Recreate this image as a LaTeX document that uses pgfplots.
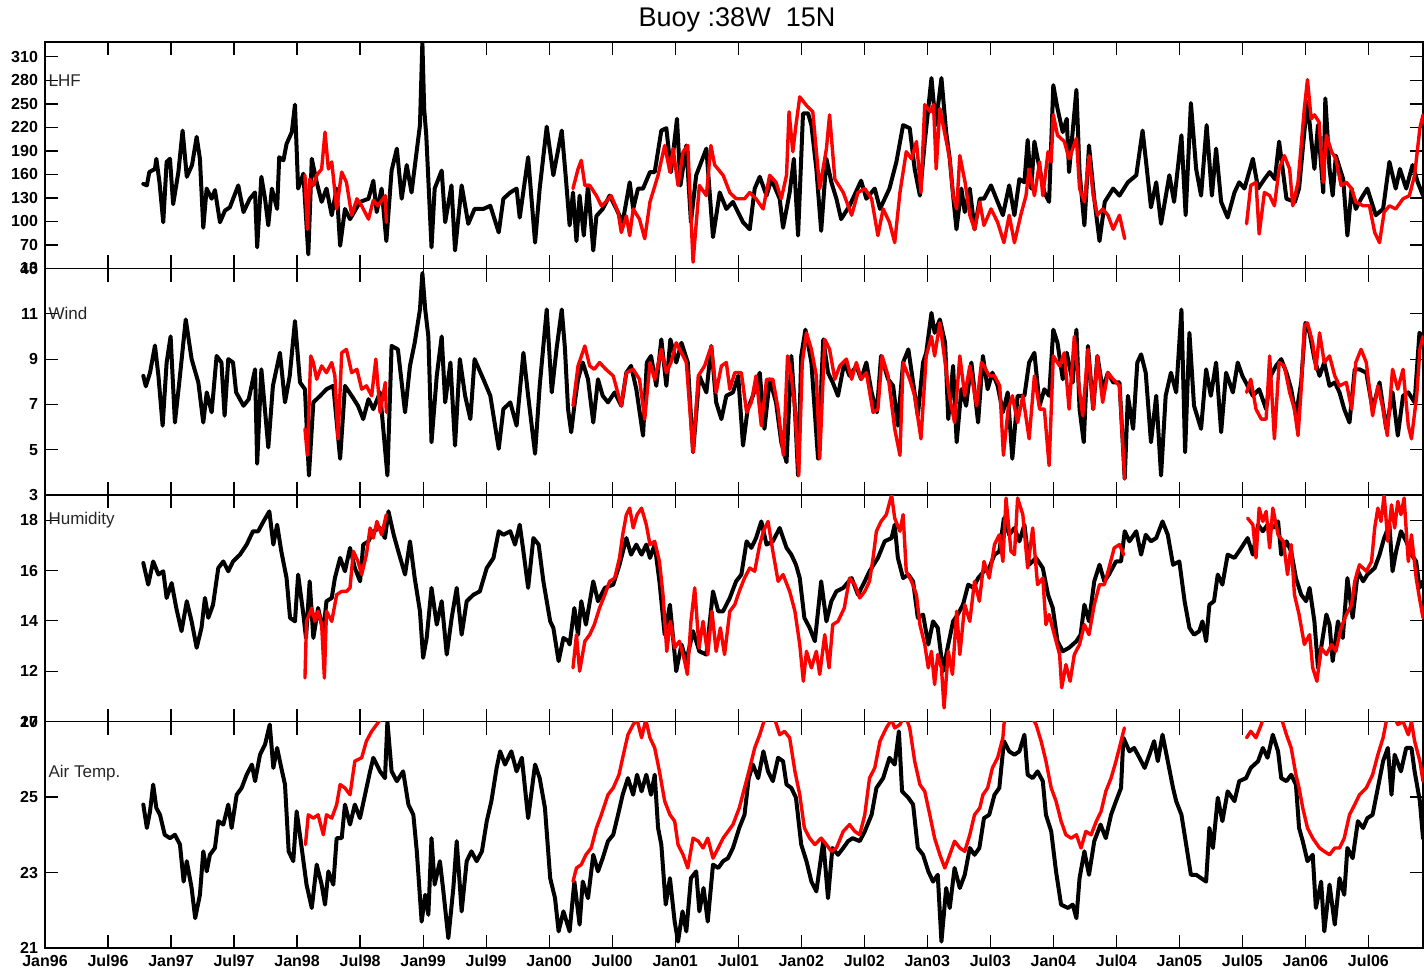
\documentclass[border=0pt]{standalone}
\usepackage{pgfplots}
\pgfplotsset{compat=1.18}
\usepackage{fontspec}
\setmainfont{Liberation Sans}
\tikzset{plab/.style={anchor=west, inner sep=0pt, font=\fontsize{8.5}{9}\selectfont, black!85}}
\pgfplotsset{
 panel/.style={
  scale only axis, width=689pt, height=113.25pt,
  xmin=0, xmax=131.2,
  xtick={0,6,...,126}, xticklabels={},
  tick align=inside, major tick length=6.5pt,
  xtick pos=both, ytick pos=both, yticklabel pos=left,
  axis line style={line width=0.7pt},
  tick style={line width=0.6pt, black},
  /pgf/number format/assume math mode=true,
  ticklabel style={font=\fontsize{8}{9}\selectfont\bfseries},
  every axis plot/.append style={line join=round, line cap=round},
 },
 blk/.style={black, line width=2pt},
 rd/.style={red, line width=1.7pt},
}
\begin{document}
\begin{tikzpicture}
% ---------------- LHF ----------------
\begin{axis}[panel, at={(0pt,339.75pt)}, ymin=40, ymax=329, ytick={40,70,...,310}]
\addplot[blk] coordinates {(9.36,148)(9.7,146)(9.93,163)(10.47,167)(10.6,180)(10.9,150)(11.26,99)(11.58,176)(11.9,180)(12.2,122)(12.7,163)(13.1,216)(13.5,157)(14.0,172)(14.44,208)(14.75,180)(15.07,92)(15.39,142)(15.87,129)(16.18,140)(16.66,99)(17.14,114)(17.6,118)(18.4,146)(18.9,112)(19.5,129)(20.0,137)(20.2,67)(20.6,157)(20.95,129)(21.26,95)(21.6,142)(22.1,116)(22.3,182)(22.7,178)(23.0,199)(23.5,214)(23.8,249)(24.1,142)(24.6,161)(25.07,58)(25.4,180)(25.87,150)(26.34,125)(26.8,142)(27.3,108)(27.77,142)(28.1,69)(28.56,116)(29.04,103)(30.0,125)(30.8,129)(31.26,152)(31.58,112)(32.05,142)(32.5,75)(33.0,165)(33.5,193)(33.96,129)(34.44,172)(34.9,137)(35.4,191)(35.7,223)(35.93,329)(36.1,244)(36.3,210)(36.8,67)(37.1,142)(37.77,165)(38.1,99)(38.7,146)(39.04,63)(39.67,146)(40.3,97)(40.9,116)(41.74,116)(42.4,120)(43.2,86)(43.64,129)(44.3,137)(44.9,142)(45.2,105)(46.0,182)(46.66,73)(47.1,142)(47.77,221)(48.4,159)(49.2,216)(49.6,154)(49.95,95)(50.27,137)(50.6,75)(50.9,133)(51.3,82)(51.7,146)(52.2,63)(52.5,107)(53.1,116)(53.76,133)(54.4,116)(55.0,99)(55.67,150)(56.0,116)(56.46,142)(56.94,142)(57.6,163)(58.05,163)(58.68,216)(59.16,219)(59.6,163)(60.17,231)(60.5,146)(61.06,197)(61.5,99)(62.0,159)(62.97,193)(63.6,80)(64.24,137)(64.87,116)(65.5,125)(66.46,99)(67.1,90)(67.57,142)(68.05,157)(68.7,133)(69.16,154)(69.95,129)(70.27,92)(70.9,137)(71.3,180)(71.7,82)(72.17,238)(72.65,238)(72.97,223)(73.44,167)(73.9,88)(74.4,180)(74.87,150)(75.35,129)(75.8,103)(76.6,120)(77.7,152)(78.2,129)(79.0,142)(79.5,116)(80.4,142)(81.06,176)(81.7,223)(82.33,219)(82.8,167)(83.3,133)(83.76,201)(84.4,283)(84.8,223)(85.35,283)(85.8,214)(86.14,180)(86.46,133)(86.78,90)(87.25,142)(87.57,112)(88.05,142)(88.5,90)(89.0,129)(89.4,129)(90.07,146)(90.7,125)(91.2,108)(91.8,146)(92.3,108)(92.77,154)(93.25,150)(93.56,204)(93.9,142)(94.2,202)(94.7,167)(95.15,137)(95.6,125)(96.0,274)(96.4,244)(96.9,214)(97.28,231)(97.5,163)(98.2,268)(98.5,163)(98.96,95)(99.4,197)(99.9,129)(100.4,75)(100.9,125)(101.7,142)(102.3,133)(103.1,150)(103.9,159)(104.5,216)(104.8,180)(105.3,118)(105.8,150)(106.26,97)(107.05,159)(107.5,125)(108.2,210)(108.6,108)(109.1,251)(109.6,167)(110.07,133)(110.6,223)(111.1,133)(111.5,193)(111.98,125)(112.6,105)(113.25,137)(113.7,150)(114.2,142)(115.0,180)(115.5,142)(116.1,154)(116.6,163)(117.1,154)(117.5,202)(118.2,129)(119.0,125)(119.4,142)(119.9,214)(120.2,253)(120.55,206)(120.86,167)(121.2,223)(121.7,137)(121.9,257)(122.3,167)(122.6,133)(122.9,184)(123.6,154)(124.0,82)(124.4,142)(124.8,116)(125.3,129)(125.9,142)(126.7,108)(127.4,116)(128.0,176)(128.6,142)(129.0,167)(129.6,142)(130.2,172)(130.7,150)(131.2,133)};
\addplot[rd] coordinates {(24.75,159)(24.98,90)(25.2,154)(25.55,146)(25.87,159)(26.34,167)(26.66,214)(26.98,167)(27.3,176)(27.77,116)(28.25,163)(28.7,150)(29.2,108)(29.7,129)(30.15,120)(30.8,103)(31.26,127)(31.7,120)(32.4,133)(32.5,99)};
\addplot[rd] coordinates {(50.27,142)(50.75,167)(51.06,178)(51.4,146)(51.86,146)(52.5,133)(52.97,120)(53.4,125)(53.9,133)(54.56,112)(54.87,86)(55.35,107)(55.67,82)(56.0,116)(56.6,103)(57.1,78)(57.6,125)(58.37,159)(59.0,197)(59.5,163)(59.8,193)(60.27,146)(60.75,189)(61.2,197)(61.7,48)(62.3,146)(62.97,133)(63.4,197)(63.76,172)(64.56,159)(65.2,137)(65.8,129)(66.6,129)(67.1,137)(67.7,129)(68.37,116)(69.0,159)(69.6,150)(70.1,129)(70.6,159)(70.84,240)(71.2,189)(71.5,223)(71.86,259)(72.5,248)(73.1,240)(73.76,142)(74.4,193)(74.7,236)(75.2,154)(76.0,137)(76.8,108)(77.4,137)(78.05,142)(78.7,129)(79.3,82)(79.8,116)(80.4,99)(80.9,73)(81.4,137)(82.0,189)(82.5,180)(82.97,202)(83.4,137)(83.76,249)(84.3,240)(84.6,249)(84.85,167)(85.2,244)(85.7,210)(86.14,180)(86.46,133)(86.8,116)(87.1,184)(87.6,150)(88.05,108)(88.5,90)(89.0,125)(89.4,95)(90.07,116)(90.7,99)(91.3,73)(91.8,108)(92.3,73)(92.9,108)(93.4,133)(93.7,167)(94.2,133)(94.7,176)(95.0,133)(95.5,189)(95.8,176)(96.0,236)(96.4,210)(97.05,202)(97.5,180)(98.2,206)(98.5,142)(98.96,125)(99.4,184)(99.8,133)(100.2,108)(100.7,116)(101.2,108)(101.7,90)(102.3,108)(102.8,78)};
\addplot[rd] coordinates {(114.4,97)(114.8,146)(115.3,150)(115.6,84)(116.1,137)(116.6,133)(117.05,120)(117.5,167)(118.0,184)(118.5,167)(118.8,120)(119.3,150)(119.6,197)(119.9,244)(120.2,281)(120.55,231)(120.86,236)(121.3,227)(121.7,150)(122.0,210)(122.5,189)(122.9,180)(123.4,146)(123.9,150)(124.4,142)(124.8,125)(125.5,120)(126.1,120)(126.6,86)(127.06,73)(127.5,112)(128.0,120)(128.6,116)(129.3,129)(129.9,133)(130.4,159)(130.9,219)(131.2,236)};
\node[plab] at (axis cs:0.3,280) {LHF};
\end{axis}
% ---------------- Wind ----------------
\begin{axis}[panel, at={(0pt,226.5pt)}, ymin=3, ymax=13, ytick={3,5,...,13}]
\addplot[blk] coordinates {(9.36,8.26)(9.6,7.8)(10.0,8.4)(10.47,9.6)(10.8,8.26)(11.2,6.06)(11.58,8.85)(11.96,10.0)(12.37,6.2)(12.85,8.26)(13.4,10.75)(13.96,9.0)(14.6,7.97)(15.07,6.2)(15.4,7.53)(15.87,6.65)(16.34,9.14)(16.8,8.85)(17.1,6.5)(17.45,9.0)(17.9,8.85)(18.2,7.53)(18.9,6.94)(19.4,7.23)(20.0,8.55)(20.2,4.38)(20.6,8.55)(21.26,5.1)(21.7,7.82)(22.37,9.28)(22.85,7.09)(23.3,8.26)(23.8,10.68)(24.28,7.97)(24.75,7.67)(25.13,3.86)(25.55,7.09)(26.2,7.38)(26.8,7.67)(27.45,7.82)(28.1,4.6)(28.56,7.82)(29.2,7.38)(29.8,6.94)(30.3,6.35)(30.8,7.23)(31.26,6.79)(31.9,7.53)(32.6,3.86)(33.0,9.58)(33.6,9.43)(34.28,6.65)(34.75,8.7)(35.2,9.72)(35.7,11.19)(35.93,12.8)(36.2,11.19)(36.5,10.0)(36.8,5.33)(37.3,8.26)(37.77,10.0)(38.1,7.09)(38.6,8.85)(39.04,5.18)(39.5,9.0)(40.0,7.38)(40.5,6.35)(40.9,9.0)(41.74,8.11)(42.4,7.38)(43.2,5.04)(43.64,6.79)(44.3,7.09)(44.9,6.06)(45.55,9.28)(46.0,7.38)(46.66,4.82)(47.1,7.82)(47.77,11.19)(48.25,7.53)(48.7,9.43)(49.2,11.19)(49.5,9.5)(49.8,6.79)(50.1,5.77)(50.4,6.94)(50.75,8.11)(51.2,8.85)(51.7,8.11)(52.2,6.2)(52.65,8.11)(53.1,7.38)(53.6,7.09)(54.24,7.53)(54.87,6.94)(55.35,8.4)(55.8,8.7)(56.3,7.67)(56.94,5.62)(57.3,8.85)(57.7,9.14)(58.2,7.82)(58.68,9.87)(59.16,7.82)(59.54,9.87)(60.1,8.85)(60.6,9.72)(61.2,8.85)(61.7,4.89)(62.3,8.26)(62.97,7.53)(63.44,9.58)(63.9,7.09)(64.4,6.35)(64.87,7.38)(65.5,7.53)(66.0,8.26)(66.46,5.18)(66.9,6.79)(67.4,7.38)(68.05,8.4)(68.5,5.92)(69.0,8.11)(69.6,7.09)(70.1,5.33)(70.6,4.45)(71.06,9.14)(71.4,6.79)(71.7,3.86)(72.0,9.14)(72.4,10.3)(72.97,8.85)(73.6,4.6)(74.1,9.87)(74.55,8.4)(75.0,7.97)(75.5,7.38)(76.1,8.85)(76.6,8.26)(77.25,8.7)(77.7,8.11)(78.2,8.85)(78.7,7.53)(79.2,6.65)(79.6,9.14)(80.27,8.11)(80.75,7.82)(81.2,6.06)(81.7,8.85)(82.2,9.43)(82.65,7.97)(83.1,6.5)(83.6,8.85)(83.9,9.28)(84.4,11.04)(84.7,10.16)(85.2,10.75)(85.7,9.72)(86.0,6.35)(86.46,8.7)(86.8,5.33)(87.25,7.67)(87.7,6.94)(88.2,8.85)(88.84,6.2)(89.3,9.14)(89.75,7.67)(90.2,8.4)(90.7,7.82)(91.2,6.65)(91.66,7.53)(92.1,4.6)(92.6,7.38)(93.25,7.38)(93.7,8.85)(94.2,9.28)(94.7,6.94)(95.15,7.67)(95.6,7.38)(96.0,10.3)(96.4,9.72)(96.9,8.11)(97.28,9.28)(97.85,7.97)(98.2,10.3)(98.5,6.79)(98.9,5.33)(99.3,9.58)(99.8,6.79)(100.2,9.14)(100.7,7.67)(101.2,8.4)(101.7,7.97)(102.3,7.97)(102.8,3.72)(103.1,7.38)(103.6,5.92)(104.0,8.85)(104.36,9.21)(104.8,8.4)(105.3,5.33)(105.8,7.38)(106.26,3.86)(106.7,7.38)(107.2,8.4)(107.7,7.53)(108.2,11.19)(108.55,4.89)(108.96,10.16)(109.4,6.94)(110.07,5.92)(110.55,8.55)(111.0,7.38)(111.5,8.85)(111.98,5.77)(112.45,8.4)(113.1,7.53)(113.56,8.85)(114.0,8.26)(114.5,7.82)(115.0,7.38)(115.6,7.67)(116.26,6.79)(116.7,8.26)(117.2,8.7)(117.7,9.0)(118.2,8.4)(118.65,7.67)(119.1,6.5)(119.6,7.97)(120.0,10.6)(120.4,10.16)(120.86,9.0)(121.35,8.26)(121.8,8.85)(122.3,7.82)(122.8,7.97)(123.25,7.53)(123.7,6.79)(124.2,6.2)(124.7,8.55)(125.15,8.55)(125.8,8.4)(126.4,6.79)(127.06,7.97)(127.7,5.92)(128.3,7.53)(128.8,5.62)(129.3,7.38)(129.8,7.53)(130.4,7.09)(130.86,10.16)(131.2,10.0)};
\addplot[rd] coordinates {(24.75,5.92)(24.98,4.75)(25.3,9.14)(25.55,8.85)(25.87,8.11)(26.34,8.7)(26.8,8.4)(27.3,8.85)(27.6,8.26)(27.9,5.48)(28.25,9.28)(28.7,9.43)(29.2,8.4)(29.7,8.55)(30.15,7.67)(30.6,7.82)(31.1,7.38)(31.5,9.0)(31.9,6.65)(32.4,7.97)(32.5,6.65)};
\addplot[rd] coordinates {(50.27,6.94)(50.75,8.7)(51.4,9.58)(51.86,8.7)(52.3,8.55)(52.8,8.85)(53.4,8.55)(54.1,8.26)(54.87,6.94)(55.35,8.4)(56.0,8.55)(56.6,8.11)(57.1,6.35)(57.6,8.85)(58.05,8.11)(58.68,9.43)(59.16,8.4)(59.6,8.85)(60.1,9.72)(60.6,9.28)(61.06,8.85)(61.7,4.89)(62.2,8.26)(62.8,8.7)(63.44,9.58)(63.9,7.53)(64.4,8.7)(64.87,8.85)(65.2,7.67)(65.67,8.4)(66.3,8.4)(66.8,6.65)(67.25,7.09)(67.7,8.26)(68.2,6.06)(68.7,8.11)(69.3,8.11)(69.8,6.79)(70.3,4.75)(70.7,9.14)(71.06,8.26)(71.4,6.79)(71.76,3.86)(72.1,8.85)(72.5,10.16)(72.97,9.43)(73.44,8.26)(73.76,4.6)(74.24,9.87)(74.7,9.43)(75.2,8.11)(75.67,8.7)(76.3,9.0)(76.8,8.11)(77.25,8.85)(77.7,8.11)(78.2,8.4)(78.84,6.65)(79.3,6.79)(79.7,9.14)(80.27,8.26)(80.9,5.92)(81.4,4.75)(81.7,8.85)(82.33,8.11)(82.8,7.38)(83.4,5.48)(83.9,9.14)(84.4,10.0)(84.7,9.14)(85.2,10.6)(85.7,8.85)(86.1,7.38)(86.6,6.2)(87.1,9.14)(87.57,7.38)(88.05,8.7)(88.7,6.94)(89.16,8.85)(89.4,8.7)(89.9,8.26)(90.4,8.26)(90.9,7.82)(91.25,4.75)(91.7,6.79)(92.1,7.38)(92.6,6.2)(93.1,7.38)(93.7,5.48)(94.2,8.26)(94.7,6.79)(95.15,6.79)(95.6,4.3)(96.0,9.14)(96.6,8.7)(97.05,9.28)(97.5,6.79)(98.0,10.0)(98.4,7.97)(98.8,6.5)(99.3,9.43)(99.8,6.79)(100.2,9.14)(100.7,7.09)(101.2,8.4)(101.7,8.11)(102.3,7.82)(102.8,3.72)};
\addplot[rd] coordinates {(114.4,7.53)(114.8,8.11)(115.3,6.79)(115.8,6.35)(116.26,6.35)(116.6,9.14)(117.05,5.48)(117.5,8.85)(118.0,8.7)(118.5,7.53)(118.96,6.79)(119.3,5.62)(119.6,7.67)(119.9,10.45)(120.2,10.6)(120.7,9.72)(121.0,8.55)(121.35,10.16)(121.8,8.85)(122.3,9.14)(122.8,8.26)(123.25,7.82)(123.9,7.97)(124.4,6.79)(124.8,8.85)(125.3,9.43)(125.8,8.85)(126.4,6.5)(126.9,7.82)(127.4,6.79)(127.8,5.62)(128.3,8.55)(128.8,7.67)(129.3,8.55)(129.8,6.06)(130.1,5.48)(130.6,7.38)(130.9,9.43)(131.2,10.0)};
\node[plab] at (axis cs:0.3,11) {Wind};
\end{axis}
% ---------------- Humidity ----------------
\begin{axis}[panel, at={(0pt,113.25pt)}, ymin=10, ymax=19, ytick={10,12,...,18}]
\addplot[blk] coordinates {(9.36,16.3)(9.83,15.44)(10.3,16.36)(10.8,15.84)(11.26,15.97)(11.58,14.91)(12.06,15.5)(12.5,14.51)(13.0,13.59)(13.5,14.78)(13.96,13.98)(14.44,12.93)(14.9,13.72)(15.23,14.91)(15.55,14.12)(16.0,14.64)(16.5,16.1)(16.98,16.36)(17.45,15.97)(17.9,16.36)(18.56,16.63)(19.2,17.03)(19.8,17.56)(20.3,17.56)(20.8,17.95)(21.36,18.35)(21.74,17.03)(22.1,17.82)(22.5,16.76)(23.0,15.7)(23.33,14.12)(23.8,13.98)(24.1,15.84)(24.6,14.25)(24.85,13.32)(25.2,15.57)(25.55,13.32)(26.0,14.51)(26.5,13.59)(26.8,14.78)(27.3,14.91)(27.6,15.7)(28.1,16.5)(28.56,15.97)(29.04,16.9)(29.5,16.1)(30.0,15.57)(30.3,17.03)(30.8,17.16)(31.26,17.56)(31.9,17.69)(32.37,17.29)(32.7,18.35)(33.2,17.42)(33.64,16.76)(34.28,15.84)(34.75,17.16)(35.2,15.7)(35.7,14.38)(36.0,12.53)(36.34,13.32)(36.8,15.31)(37.3,13.85)(37.77,14.78)(38.25,12.66)(38.72,14.12)(39.2,15.31)(39.67,13.45)(40.15,14.78)(40.8,15.04)(41.4,15.17)(42.06,16.1)(42.7,16.5)(43.2,17.56)(43.64,17.42)(44.3,17.56)(44.75,17.03)(45.2,17.82)(45.55,16.76)(46.0,15.31)(46.5,17.29)(47.0,17.03)(47.45,15.57)(48.1,13.98)(48.4,13.72)(48.9,12.4)(49.36,13.32)(49.8,13.2)(49.95,13.06)(50.4,14.51)(50.75,13.45)(51.06,14.78)(51.5,13.85)(52.2,15.57)(52.65,14.78)(53.3,15.31)(54.1,15.44)(54.7,16.23)(55.35,17.29)(55.8,16.63)(56.3,17.03)(56.8,16.63)(57.25,17.03)(57.6,16.5)(58.05,17.03)(58.5,15.57)(59.0,13.45)(59.5,14.64)(60.1,12.0)(60.6,13.06)(61.06,12.4)(61.7,13.59)(62.3,12.79)(62.97,12.66)(63.6,15.17)(64.1,14.38)(64.56,14.38)(65.2,14.91)(65.8,15.57)(66.3,15.84)(66.8,17.16)(67.25,16.9)(67.7,17.29)(68.2,17.95)(68.7,17.03)(69.3,17.16)(69.95,17.69)(70.6,16.9)(71.06,16.63)(71.5,16.23)(71.86,15.7)(72.3,14.12)(72.8,13.72)(73.3,13.19)(73.9,15.57)(74.4,13.98)(74.87,14.78)(75.35,15.17)(76.0,15.31)(76.8,15.7)(77.4,15.04)(78.05,15.57)(78.5,15.97)(79.3,16.5)(79.95,17.16)(80.6,17.29)(80.9,17.82)(81.2,16.5)(81.7,15.7)(82.2,15.84)(82.65,15.57)(83.1,14.12)(83.6,14.25)(84.1,13.06)(84.55,13.98)(85.0,13.72)(85.5,12.0)(86.0,13.06)(86.46,13.98)(86.9,14.25)(87.4,14.64)(87.9,15.44)(88.4,15.31)(88.84,15.7)(89.4,15.97)(89.9,16.1)(90.4,16.63)(90.86,16.76)(91.3,18.08)(91.8,17.42)(92.3,17.69)(92.77,17.16)(93.25,17.82)(93.7,16.23)(94.36,16.5)(95.0,16.1)(95.5,15.04)(95.95,14.51)(96.4,13.19)(96.9,12.79)(97.5,12.93)(98.2,13.19)(98.6,13.45)(98.96,14.64)(99.4,13.98)(99.9,15.57)(100.4,16.23)(100.86,15.57)(101.3,15.84)(101.97,16.36)(102.45,16.36)(102.8,17.56)(103.25,17.16)(103.9,17.56)(104.36,16.63)(104.8,17.42)(105.3,17.16)(105.8,17.29)(106.4,17.95)(106.9,17.42)(107.4,16.23)(108.0,16.36)(108.5,14.78)(108.96,13.72)(109.4,13.45)(109.9,13.59)(110.2,13.98)(110.55,13.19)(110.86,14.64)(111.3,14.78)(111.66,15.84)(112.1,15.44)(112.6,16.63)(113.25,16.5)(113.9,16.9)(114.5,17.29)(115.0,16.63)(115.5,17.82)(115.95,17.56)(116.4,17.82)(116.9,17.69)(117.4,17.95)(117.7,16.63)(118.2,17.16)(118.65,16.76)(119.1,15.7)(119.6,15.04)(120.07,14.78)(120.4,15.31)(120.86,13.98)(121.2,12.13)(121.5,12.93)(122.0,14.25)(122.3,13.85)(122.6,12.4)(123.1,13.98)(123.56,13.32)(124.0,15.7)(124.5,14.12)(125.0,15.97)(125.5,15.57)(125.9,15.84)(126.6,16.1)(127.06,16.63)(127.5,17.29)(128.0,17.82)(128.3,15.97)(128.64,16.76)(129.1,17.56)(129.6,17.16)(130.1,16.63)(130.55,16.36)(130.86,15.31)(131.2,15.57)};
\addplot[rd] coordinates {(24.75,11.73)(24.9,13.98)(25.4,14.51)(25.7,13.98)(26.0,14.38)(26.34,13.85)(26.6,11.73)(26.8,14.38)(27.3,13.98)(27.77,15.04)(28.25,15.17)(28.7,15.17)(29.04,15.31)(29.36,16.76)(29.8,16.36)(30.15,15.84)(30.6,16.63)(30.95,17.69)(31.26,17.29)(31.6,17.95)(32.05,17.42)(32.5,18.22)};
\addplot[rd] coordinates {(50.27,12.13)(50.6,13.45)(50.9,12.0)(51.4,13.19)(51.86,13.45)(52.3,13.85)(52.8,14.51)(53.3,15.04)(53.76,15.57)(54.24,15.7)(54.7,16.5)(55.0,17.42)(55.35,18.22)(55.67,18.48)(56.0,17.69)(56.37,18.22)(56.8,18.48)(57.25,17.82)(57.6,17.03)(58.05,17.16)(58.5,16.36)(58.84,15.04)(59.2,12.79)(59.54,13.98)(59.95,12.93)(60.4,13.19)(60.9,12.4)(61.16,11.87)(61.5,13.98)(61.86,15.31)(62.27,12.93)(62.65,13.98)(63.1,12.66)(63.5,14.38)(63.9,12.79)(64.3,13.72)(64.7,12.66)(65.2,14.38)(65.67,14.64)(66.1,15.17)(66.6,15.7)(67.1,16.1)(67.57,15.97)(68.05,17.03)(68.4,17.56)(68.84,17.95)(69.3,16.76)(69.8,15.57)(70.27,15.84)(70.9,15.17)(71.4,14.38)(71.86,13.06)(72.2,11.6)(72.5,12.79)(72.97,12.13)(73.44,12.79)(73.76,11.87)(74.24,13.45)(74.65,12.13)(75.0,13.85)(75.5,13.98)(76.1,14.51)(76.6,15.7)(77.1,15.44)(77.57,14.91)(78.05,15.17)(78.5,15.57)(78.84,16.5)(79.16,17.56)(79.6,17.95)(80.1,18.22)(80.6,19.0)(80.9,18.08)(81.4,17.56)(81.7,18.22)(82.0,15.97)(82.5,15.57)(82.97,15.04)(83.3,13.85)(83.76,13.06)(84.1,12.13)(84.4,12.79)(84.7,11.47)(85.0,12.66)(85.35,12.13)(85.6,10.54)(86.0,12.79)(86.4,11.87)(86.8,14.38)(87.1,12.66)(87.57,14.64)(88.05,13.98)(88.5,15.57)(88.96,14.78)(89.4,16.36)(89.9,15.7)(90.4,17.03)(90.86,17.42)(91.2,16.36)(91.5,18.88)(91.97,16.76)(92.3,16.63)(92.6,18.88)(93.1,18.22)(93.56,16.1)(94.04,17.69)(94.5,15.44)(95.0,15.7)(95.3,13.85)(95.6,14.25)(96.1,13.45)(96.6,12.66)(96.8,11.34)(97.2,12.26)(97.6,11.6)(98.0,12.66)(98.5,13.06)(98.96,13.85)(99.4,13.45)(99.9,14.64)(100.4,15.44)(100.86,15.44)(101.3,16.1)(101.8,16.9)(102.3,17.03)(102.7,16.63)};
\addplot[rd] coordinates {(114.5,18.08)(115.0,17.82)(115.3,16.5)(115.6,18.48)(115.95,17.95)(116.26,18.35)(116.6,16.9)(116.9,18.48)(117.4,17.42)(117.9,17.16)(118.3,15.84)(118.65,17.03)(118.96,15.04)(119.4,14.25)(119.9,13.06)(120.4,13.45)(120.7,12.13)(121.1,11.6)(121.5,12.93)(122.0,12.66)(122.5,13.06)(122.9,12.79)(123.4,13.72)(123.9,14.25)(124.4,14.64)(124.7,15.57)(125.15,16.23)(125.8,15.97)(126.3,16.36)(126.6,17.69)(126.9,18.48)(127.2,17.95)(127.5,19.0)(127.85,17.16)(128.2,18.61)(128.5,17.69)(128.8,18.75)(129.1,18.22)(129.4,18.88)(129.8,16.36)(130.1,17.42)(130.55,15.7)(130.86,14.91)(131.2,14.12)};
\node[plab] at (axis cs:0.3,18) {Humidity};
\end{axis}
% ---------------- Air Temp ----------------
\begin{axis}[panel, at={(0pt,0pt)}, ymin=21, ymax=27, ytick={21,23,25,27},
  xticklabels={Jan96,Jul96,Jan97,Jul97,Jan98,Jul98,Jan99,Jul99,Jan00,Jul00,Jan01,Jul01,Jan02,Jul02,Jan03,Jul03,Jan04,Jul04,Jan05,Jul05,Jan06,Jul06},
  xticklabel pos=bottom]
\addplot[blk] coordinates {(9.36,24.8)(9.7,24.18)(10.0,24.62)(10.3,25.33)(10.6,24.71)(10.95,24.53)(11.4,24.0)(11.9,23.91)(12.37,24.0)(12.85,23.74)(13.2,22.76)(13.5,23.3)(13.96,22.59)(14.3,21.79)(14.75,22.41)(15.07,23.56)(15.4,23.03)(15.7,23.47)(16.18,23.65)(16.5,24.36)(16.98,24.27)(17.45,24.8)(17.77,24.18)(18.25,25.06)(18.72,25.24)(19.2,25.59)(19.7,25.86)(20.0,25.42)(20.47,26.12)(20.95,26.39)(21.4,26.92)(21.74,25.77)(22.1,26.3)(22.5,25.77)(22.85,25.33)(23.2,23.56)(23.64,23.3)(23.96,24.62)(24.44,23.65)(24.9,22.68)(25.4,22.06)(25.87,23.21)(26.34,22.68)(26.66,22.15)(26.98,23.03)(27.45,22.68)(27.77,23.91)(28.25,23.91)(28.56,24.8)(29.04,24.27)(29.5,24.8)(29.99,24.44)(30.47,25.06)(30.95,25.68)(31.26,26.04)(31.9,25.68)(32.37,25.5)(32.6,27.0)(33.0,25.68)(33.5,25.42)(34.1,25.68)(34.6,24.8)(35.07,24.53)(35.4,23.56)(35.86,21.7)(36.2,22.41)(36.5,21.88)(36.8,23.91)(37.1,22.68)(37.6,23.3)(37.93,22.5)(38.4,21.26)(38.88,22.59)(39.2,23.83)(39.67,21.97)(40.15,23.3)(40.6,23.56)(41.1,23.3)(41.6,23.56)(42.06,24.36)(42.5,24.89)(43.0,25.77)(43.33,26.21)(43.8,25.86)(44.4,26.21)(44.9,25.68)(45.4,26.04)(46.0,24.44)(46.66,25.86)(47.1,25.5)(47.6,24.71)(48.1,22.85)(48.56,22.32)(48.9,21.44)(49.36,21.97)(49.95,21.44)(50.4,22.76)(50.9,21.62)(51.2,22.76)(51.7,22.32)(52.2,23.47)(52.65,23.03)(53.1,23.38)(53.6,23.83)(54.1,24.0)(54.56,24.53)(55.0,25.06)(55.5,25.5)(56.0,25.06)(56.37,25.59)(56.8,25.15)(57.25,25.59)(57.7,25.06)(58.05,25.59)(58.37,24.18)(58.68,23.74)(59.1,22.15)(59.5,22.85)(59.95,21.7)(60.27,21.17)(60.7,21.97)(61.06,21.44)(61.5,22.85)(62.0,23.03)(62.3,21.97)(62.7,22.59)(63.1,21.7)(63.6,23.21)(64.1,23.12)(64.56,23.3)(65.03,23.38)(65.5,23.65)(66.1,24.18)(66.6,24.53)(67.0,25.5)(67.4,25.86)(67.9,25.5)(68.4,26.21)(68.84,25.68)(69.3,25.42)(69.8,26.04)(70.27,25.95)(70.6,25.33)(71.06,25.24)(71.5,24.98)(72.0,23.74)(72.5,23.3)(72.97,22.76)(73.44,22.5)(74.1,23.83)(74.55,22.32)(74.97,23.65)(75.5,23.47)(76.0,23.65)(76.46,23.83)(76.9,23.91)(77.57,23.83)(78.05,24.09)(78.7,24.53)(79.16,25.24)(79.8,25.5)(80.4,26.04)(80.9,25.86)(81.3,26.74)(81.6,25.15)(82.2,24.98)(82.65,24.8)(83.1,23.65)(83.6,23.47)(84.1,23.03)(84.55,22.76)(85.0,22.94)(85.35,21.17)(85.8,22.59)(86.14,22.06)(86.6,23.12)(87.1,22.59)(87.57,22.94)(88.05,23.65)(88.5,23.47)(88.96,23.65)(89.4,24.44)(89.9,24.53)(90.4,25.06)(90.86,25.24)(91.3,26.48)(91.8,26.21)(92.3,26.12)(92.77,26.21)(93.25,26.65)(93.56,25.59)(94.04,25.5)(94.5,25.68)(95.0,25.42)(95.3,24.53)(95.8,24.09)(96.26,23.03)(96.74,22.15)(97.4,22.06)(97.85,22.15)(98.2,21.79)(98.5,22.85)(98.96,23.56)(99.4,22.94)(99.9,23.83)(100.5,24.27)(101.0,23.91)(101.5,24.53)(101.97,24.89)(102.45,25.24)(102.67,26.57)(103.25,26.21)(103.7,26.3)(104.2,26.04)(104.7,25.77)(105.15,26.12)(105.6,26.48)(105.95,25.95)(106.4,26.65)(106.9,25.95)(107.4,25.24)(107.7,24.89)(108.2,24.53)(108.65,23.74)(109.1,22.94)(109.6,22.94)(110.07,22.85)(110.55,22.76)(110.86,24.18)(111.2,23.65)(111.66,24.98)(112.1,24.36)(112.6,25.15)(113.25,24.89)(113.7,25.42)(114.35,25.5)(114.8,25.77)(115.5,25.95)(115.95,26.3)(116.4,26.04)(116.9,26.65)(117.4,26.21)(117.7,25.5)(118.2,25.42)(118.65,25.59)(119.1,25.33)(119.4,24.18)(119.75,23.83)(120.2,23.3)(120.7,23.47)(121.0,22.06)(121.5,22.76)(121.8,21.44)(122.3,22.68)(122.8,21.62)(123.25,22.85)(123.7,22.41)(124.0,23.65)(124.5,23.38)(125.0,24.36)(125.5,24.18)(125.9,24.44)(126.4,24.53)(126.9,25.24)(127.4,25.95)(127.85,26.3)(128.2,25.06)(128.5,26.12)(129.1,25.68)(129.6,26.3)(130.1,26.3)(130.4,25.68)(130.9,24.89)(131.2,23.91)};
\addplot[rd] coordinates {(24.8,23.74)(25.07,24.53)(25.55,24.44)(26.0,24.53)(26.5,24.0)(26.8,24.53)(27.3,24.44)(27.77,24.8)(28.1,25.33)(28.56,25.24)(29.04,25.06)(29.5,25.95)(30.15,26.04)(30.6,26.48)(31.1,26.74)(31.58,26.92)(32.05,27.1)(32.37,27.4)};
\addplot[rd] coordinates {(50.27,22.76)(50.6,23.12)(51.06,23.21)(51.5,23.47)(52.0,23.65)(52.5,24.18)(52.97,24.53)(53.6,25.06)(54.1,25.24)(54.65,25.59)(55.0,26.04)(55.5,26.65)(56.0,26.92)(56.37,27.05)(56.8,26.57)(57.2,27.05)(57.6,26.57)(58.05,26.3)(58.5,25.68)(59.0,24.89)(59.5,24.53)(59.95,24.36)(60.27,23.74)(60.75,23.47)(61.2,23.12)(61.7,23.91)(62.2,23.83)(62.65,23.65)(63.1,23.91)(63.6,23.38)(64.1,23.65)(64.56,23.91)(65.03,24.09)(65.5,24.27)(66.1,24.71)(66.6,25.24)(67.1,25.77)(67.57,26.3)(68.05,26.65)(68.5,27.05)(69.0,27.15)(69.5,27.05)(69.95,26.65)(70.4,26.74)(70.9,26.57)(71.4,25.68)(71.86,25.06)(72.3,24.18)(72.8,23.91)(73.3,23.74)(73.9,23.91)(74.4,23.74)(74.87,23.56)(75.35,23.65)(76.0,24.09)(76.6,24.27)(77.1,24.09)(77.57,24.0)(78.05,24.53)(78.5,25.5)(79.0,25.77)(79.5,26.48)(80.1,26.83)(80.6,27.05)(80.9,26.83)(81.4,26.92)(81.86,27.2)(82.33,26.83)(82.8,25.95)(83.3,25.33)(83.76,25.15)(84.24,24.53)(84.7,23.91)(85.2,23.47)(85.67,23.12)(86.14,23.47)(86.6,23.83)(87.1,23.65)(87.57,23.56)(88.05,24.0)(88.5,24.53)(89.0,24.71)(89.3,25.06)(89.75,25.24)(90.2,25.77)(90.7,26.04)(91.2,26.57)(91.3,26.92)(91.66,27.4)(92.45,27.2)(93.4,27.4)(94.36,26.92)(94.84,26.48)(95.3,25.95)(95.8,25.24)(96.26,24.89)(96.74,24.36)(97.2,24.0)(97.7,23.91)(98.2,24.0)(98.64,23.65)(99.1,24.09)(99.6,24.0)(100.1,24.36)(100.55,24.62)(101.0,25.15)(101.5,25.5)(101.97,25.95)(102.45,26.48)(102.77,26.83)};
\addplot[rd] coordinates {(114.4,26.57)(114.8,26.74)(115.3,26.57)(115.8,26.92)(116.1,27.2)(117.0,27.4)(117.7,27.1)(118.2,26.65)(118.65,26.3)(119.1,25.59)(119.4,25.24)(119.75,24.71)(120.2,24.18)(120.7,23.91)(121.35,23.65)(121.8,23.56)(122.3,23.47)(122.8,23.65)(123.25,23.65)(123.7,23.91)(124.2,24.53)(124.7,24.8)(125.15,25.06)(125.8,25.24)(126.4,25.59)(126.9,26.12)(127.4,26.57)(127.7,27.0)(128.3,27.2)(128.8,26.92)(129.3,27.0)(129.8,26.65)(130.1,27.0)(130.4,26.48)(130.9,25.95)(131.2,25.42)};
\node[plab] at (axis cs:0.3,25.64) {Air Temp.};
\end{axis}
\node[font=\fontsize{13.5}{15}\selectfont] at (346pt,464pt) {Buoy :38W\ \ 15N};
\pgfresetboundingbox
\path[use as bounding box] (-22.5pt,-11.5pt) rectangle (689.5pt,474pt);
\end{tikzpicture}
\end{document}
